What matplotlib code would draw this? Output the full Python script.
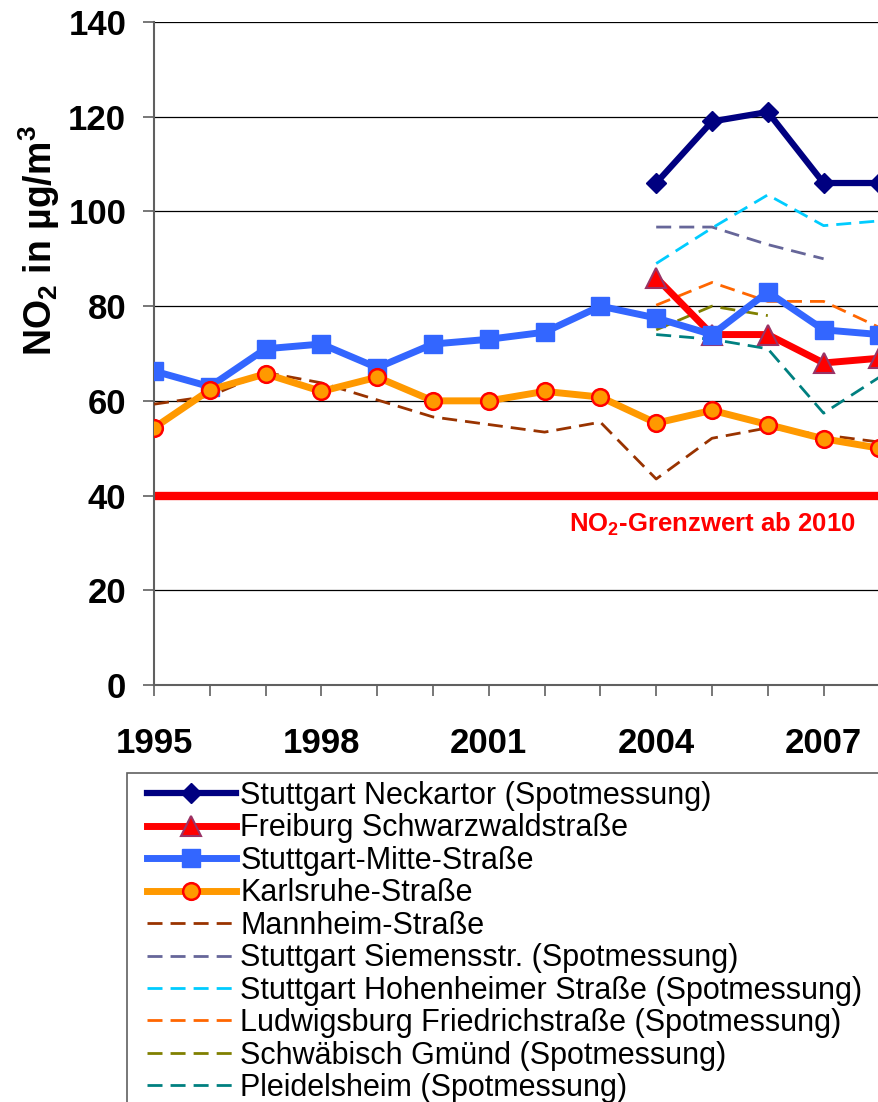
import numpy as np
import matplotlib.pyplot as plt
from matplotlib.patches import Rectangle

plt.rcParams['font.family'] = ['Liberation Sans', 'DejaVu Sans']
plt.rcParams['mathtext.fontset'] = 'custom'
plt.rcParams['mathtext.rm'] = 'Liberation Sans'
plt.rcParams['mathtext.bf'] = 'Liberation Sans:bold'

# years and NO2 annual means (ug/m3)
years_all = [1995, 1996, 1997, 1998, 1999, 2000, 2001, 2002, 2003, 2004, 2005, 2006, 2007, 2008]
years_spot = [2004, 2005, 2006, 2007, 2008]
year_labels = [1995, 1998, 2001, 2004, 2007]

neckartor = [106, 119, 121, 106, 106]
freiburg = [86, 74, 74, 68, 69]
mitte = [66.3, 63, 71, 72, 67, 72, 73, 74.5, 80, 77.5, 74, 83, 75, 74]
karlsruhe = [54.3, 62.3, 65.7, 62, 65, 60, 60, 62, 60.8, 55.3, 58, 55, 52, 50]
mannheim = [59.3, 61, 66, 63.8, 60.2, 56.6, 55, 53.4, 55.5, 43.5, 52.1, 54.3, 52.8, 51.3]
siemens = [96.7, 96.7, 93, 90]
hohenheimer = [89, 96.5, 103.5, 97, 98]
ludwigsburg = [80.2, 85, 81, 81, 75.5]
gmuend = [75, 80, 78]
pleidelsheim = [74, 73, 71, 57.4, 65]
grenzwert = 40

labels = ["Stuttgart Neckartor (Spotmessung)",
          "Freiburg Schwarzwaldstraße",
          "Stuttgart-Mitte-Straße",
          "Karlsruhe-Straße",
          "Mannheim-Straße",
          "Stuttgart Siemensstr. (Spotmessung)",
          "Stuttgart Hohenheimer Straße (Spotmessung)",
          "Ludwigsburg Friedrichstraße (Spotmessung)",
          "Schwäbisch Gmünd (Spotmessung)",
          "Pleidelsheim (Spotmessung)"]

fig = plt.figure(figsize=(8.79, 11.02), dpi=100)
ax = fig.add_axes([154/879, 1 - 685/1102, 837/879, 663/1102])

ax.set_xlim(1995, 2010)
ax.set_ylim(0, 140)
ax.set_yticks(np.arange(0, 141, 20))
ax.set_xticks(year_labels)
ax.set_xticks(years_all, minor=True)
ax.yaxis.grid(True, color='black', lw=0.9)
ax.set_axisbelow(True)
for s in ['top', 'right']:
    ax.spines[s].set_visible(False)
for s in ['left', 'bottom']:
    ax.spines[s].set_color('#606060')
    ax.spines[s].set_linewidth(1.5)
ax.tick_params(axis='both', which='both', direction='out', length=8, color='#606060', width=1.2, labelsize=25)
ax.tick_params(axis='y', pad=12)
ax.tick_params(axis='x', pad=22)
for t in ax.get_xticklabels() + ax.get_yticklabels():
    t.set_fontweight('bold')

ax.axhline(grenzwert, color='#FF0000', lw=6, zorder=2)
ax.text(2005, grenzwert - 6, "NO$_\\mathbf{2}$-Grenzwert ab 2010", color='#FF0000',
        fontsize=18.5, fontweight='bold', ha='center', va='center')

dash = (5.4, 2.9)
h = []
h += ax.plot(years_spot, neckartor, color='#000080', lw=4.5, marker='D', ms=10, zorder=6)
h += ax.plot(years_spot, freiburg, color='#FF0000', lw=5, marker='^', ms=14,
             mfc='#FF0000', mec='#993366', mew=1.5, zorder=5)
h += ax.plot(years_all, mitte, color='#3366FF', lw=5, marker='s', ms=13, zorder=5)
h += ax.plot(years_all, karlsruhe, color='#FF9900', lw=5, marker='o', ms=12,
             mfc='#FF9900', mec='#FF0000', mew=1.8, zorder=5)
h += ax.plot(years_all, mannheim, color='#993300', lw=2, dashes=dash, zorder=4)
h += ax.plot(years_spot[:4], siemens, color='#666699', lw=2, dashes=dash, zorder=4)
h += ax.plot(years_spot, hohenheimer, color='#00CCFF', lw=2, dashes=dash, zorder=4)
h += ax.plot(years_spot, ludwigsburg, color='#FF6600', lw=2, dashes=dash, zorder=4)
h += ax.plot(years_spot[:3], gmuend, color='#808000', lw=2, dashes=dash, zorder=4)
h += ax.plot(years_spot, pleidelsheim, color='#008080', lw=2, dashes=dash, zorder=4)

ax.set_ylabel("NO$_\\mathbf{2}$ in µg/m$^\\mathbf{3}$", fontsize=27, fontweight='bold')
ax.yaxis.set_label_coords(-0.11, 0.67)

# legend frame runs off the figure edge like in the original
fig.patches.append(Rectangle((127/879, -0.1), 1.0, 1.1 - 773/1102, transform=fig.transFigure,
                             fill=False, edgecolor='#606060', lw=1.2))
leg = fig.legend(h, labels, loc='upper left', bbox_to_anchor=(147/879, 1 - 781/1102),
                 fontsize=22, frameon=False, handlelength=2.9,
                 handletextpad=0.16, labelspacing=0.08, borderpad=0, borderaxespad=0)

fig.savefig('out.png', dpi=100)
